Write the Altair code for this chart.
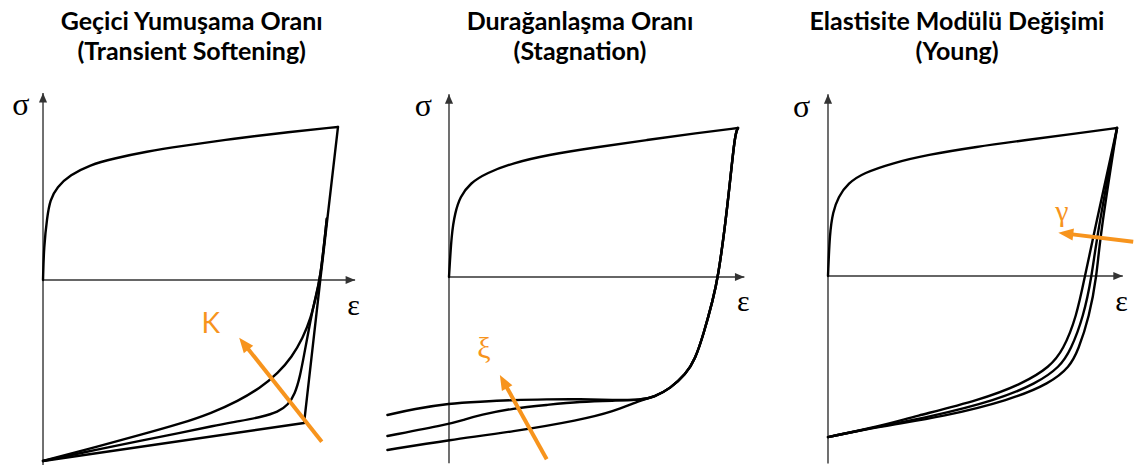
import math

import altair as alt
import pandas as pd

ORANGE = "#F7941D"
INK = "#000000"
AXIS_INK = "#333333"
SERIF = "Liberation Serif"
SANS = "Lato"
HEIGHT = 468

# Arrow-head glyph: tip at the anchor point, pointing up before rotation
HEAD_PATH = "M0,0L-0.9,2.1L0.9,2.1Z"
BIG_HEAD_PATH = "M0,0L-0.8,2L0.8,2Z"

# ---------------- Panel 1: transient softening (K) ----------------
TS_LOAD_EPS = [0, 0.3, 1.4, 2.4, 4.7, 9.2, 15.9, 23.7, 35.3, 46.4, 64.4, 81.4, 100]
TS_LOAD_SIG = [0, 21.6, 41.2, 52.3, 60.8, 68.6, 75.2, 79.3, 84.0, 87.4, 92.3, 96.3, 100]
TS_LINEAR_EPS = [100, 94.0, 88.5, 0]
TS_LINEAR_SIG = [100, 0, -93.5, -118.3]
TS_SOFT_A_EPS = [96.2, 94.0, 92.4, 90.8, 88.1, 84.4, 79.7, 73.6, 66.1, 57.3, 46.4, 32.9, 19.3, 0]
TS_SOFT_A_SIG = [40, 0, -11.8, -24.8, -37.9, -50.3, -60.8, -70.6, -79.1, -86.9, -94.1, -101.3, -108.5, -118.3]
TS_SOFT_B_EPS = [96.2, 94.0, 91.9, 90.2, 88.5, 87.1, 85.4, 83.1, 79.7, 74.2, 66.8, 57.6, 46.4, 32.9, 19.3, 0]
TS_SOFT_B_SIG = [40, 0, -14.4, -31.4, -49.0, -63.4, -74.5, -81.7, -86.3, -89.5, -92.2, -95.4, -100.0, -105.2, -110.5, -118.3]

# ---------------- Panel 2: stagnation (xi) ----------------
ST_LOAD_EPS = [0, 0.9, 2.1, 3.8, 7.3, 13.0, 22.1, 33.9, 51.2, 68.5, 85.8, 100]
ST_LOAD_SIG = [0, 29.5, 43.0, 53.7, 63.0, 69.8, 76.5, 81.9, 87.2, 91.9, 96.6, 100]
ST_UNLOAD_EPS = [100, 99.0, 97.2, 95.5, 93.1, 91.3, 88.2, 85.1, 82.0, 76.5, 71.0, 66.5]
ST_UNLOAD_SIG = [100, 96.6, 63.1, 33.6, 0, -15.4, -37.6, -55.7, -65.0, -75.0, -80.5, -82.6]
ST_TOP_EPS = [56.8, 45.3, 33.8, 22.2, 10.7, 0.1, -12.1, -21.3]
ST_TOP_SIG = [-82.6, -81.9, -82.1, -82.6, -83.7, -84.8, -88.6, -92.6]
ST_MID_EPS = [56.8, 45.3, 33.8, 22.2, 10.7, 4.9, 0.1, -21.3]
ST_MID_SIG = [-83.0, -83.7, -85.9, -88.1, -92.6, -96.0, -98.7, -106.7]
ST_LOW_EPS = [56.8, 45.3, 22.2, 0.1, -21.3]
ST_LOW_SIG = [-90.4, -96.0, -103.8, -109.4, -116.1]

# ---------------- Panel 3: Young's modulus change (gamma) ----------------
YM_LOAD_EPS = [0, 0.6, 1.7, 3.5, 7.0, 12.2, 22.5, 34.1, 51.4, 68.7, 86.0, 100]
YM_LOAD_SIG = [0, 29.0, 43.2, 53.4, 62.8, 69.6, 76.4, 81.8, 87.4, 91.9, 96.4, 100]
YM_UNLOAD_SIG = [100, 26.6, 0, -27.5, -50.0, -61.3, -72.5, -83.8, -95.1, -101.5, -108.8]
YM_L_EPS = [100, 91.8, 88.9, 86.0, 81.4, 76.8, 67.6, 52.6, 29.4, 18.0, 0]
YM_M_EPS = [100, 93.0, 91.3, 88.4, 84.0, 80.3, 72.2, 58.4, 35.3, 18.0, 0]
YM_R_EPS = [100, 94.1, 93.0, 90.4, 86.6, 83.7, 76.8, 62.9, 39.8, 18.0, 0]

PANELS = [
    dict(
        width=379, x_domain=[-14.58, 113.9], y_domain=[-122.9, 183.0],
        title=["Geçici Yumuşama Oranı", "(Transient Softening)"], title_x=191.7,
        smooth={
            "load": (TS_LOAD_EPS, TS_LOAD_SIG),
            "soft_a": (TS_SOFT_A_EPS, TS_SOFT_A_SIG),
            "soft_b": (TS_SOFT_B_EPS, TS_SOFT_B_SIG),
        },
        straight={"linear": (TS_LINEAR_EPS, TS_LINEAR_SIG)},
        axis=dict(y_lo=-120.9, y_hi=122.2, x_hi=105.8),
        sigma_at=(-7.5, 114.4), eps_at=(105.3, -17.3),
        arrow=dict(tail=(94.5, -105.7), head=(66.5, -37.7)),
        tag=dict(text="K", at=(56.9, -29.4), font=SANS, size=28),
    ),
    dict(
        width=379, x_domain=[-24.22, 106.92], y_domain=[-128.2, 185.9],
        title=["Durağanlaşma Oranı", "(Stagnation)"], title_x=201.0,
        smooth={
            "top": (ST_UNLOAD_EPS + ST_TOP_EPS, ST_UNLOAD_SIG + ST_TOP_SIG),
            "mid": (ST_UNLOAD_EPS + ST_MID_EPS, ST_UNLOAD_SIG + ST_MID_SIG),
            "low": (ST_UNLOAD_EPS + ST_LOW_EPS, ST_UNLOAD_SIG + ST_LOW_SIG),
            "load": (ST_LOAD_EPS, ST_LOAD_SIG),
        },
        straight={},
        axis=dict(y_lo=-125.0, y_hi=122.6, x_hi=102.2),
        sigma_at=(-8.9, 114.8), eps_at=(101.8, -16.6),
        arrow=dict(tail=(33.8, -122.3), head=(17.6, -65.8)),
        tag=dict(text="ξ", at=(12.1, -48.5), font=SERIF, size=30),
    ),
    dict(
        width=378, x_domain=[-24.22, 106.57], y_domain=[-129.7, 186.5],
        title=["Elastisite Modülü Değişimi", "(Young)"], title_x=199.0,
        smooth={
            "load": (YM_LOAD_EPS, YM_LOAD_SIG),
            "l": (YM_L_EPS, YM_UNLOAD_SIG),
            "m": (YM_M_EPS, YM_UNLOAD_SIG),
            "r": (YM_R_EPS, YM_UNLOAD_SIG),
        },
        straight={},
        axis=dict(y_lo=-126.6, y_hi=122.8, x_hi=102.0),
        sigma_at=(-9.1, 114.4), eps_at=(101.6, -17.4),
        arrow=dict(tail=(105.6, 23.2), head=(79.7, 29.3)),
        tag=dict(text="γ", at=(80.9, 43.0), font=SERIF, size=30),
    ),
]


def series_frame(curves):
    rows = []
    for name, (xs, ys) in curves.items():
        for i, (x, y) in enumerate(zip(xs, ys)):
            rows.append({"series": name, "i": i, "eps": x, "sig": y})
    return pd.DataFrame(rows, columns=["series", "i", "eps", "sig"])


def build_panel(p):
    xs = alt.Scale(domain=p["x_domain"], nice=False, zero=False)
    ys = alt.Scale(domain=p["y_domain"], nice=False, zero=False)
    kx = p["width"] / (p["x_domain"][1] - p["x_domain"][0])
    ky = HEIGHT / (p["y_domain"][1] - p["y_domain"][0])

    def X(f):
        return alt.X(f"{f}:Q", scale=xs, axis=None)

    def Y(f):
        return alt.Y(f"{f}:Q", scale=ys, axis=None)

    def X2(f):
        return alt.X2(f"{f}:Q")

    def Y2(f):
        return alt.Y2(f"{f}:Q")

    ax = p["axis"]
    axis_lines = pd.DataFrame([
        {"x": 0, "y": ax["y_lo"], "x2": 0, "y2": ax["y_hi"]},
        {"x": 0, "y": 0, "x2": ax["x_hi"], "y2": 0},
    ])
    axis_heads = pd.DataFrame([
        {"x": 0, "y": ax["y_hi"], "rot": 0},
        {"x": ax["x_hi"], "y": 0, "rot": 90},
    ])

    rules = alt.Chart(axis_lines).mark_rule(color=AXIS_INK, strokeWidth=1.4).encode(
        x=X("x"), y=Y("y"), x2=X2("x2"), y2=Y2("y2"))
    heads = alt.Chart(axis_heads).mark_point(
        shape=HEAD_PATH, filled=True, size=81, color=AXIS_INK, opacity=1, strokeWidth=0
    ).encode(x=X("x"), y=Y("y"), angle=alt.Angle("rot:Q", scale=None))

    layers = [rules, heads]

    smooth = alt.Chart(series_frame(p["smooth"])).mark_line(
        interpolate="basis", color=INK, strokeWidth=2.4,
        strokeCap="round", strokeJoin="round",
    ).encode(x=X("eps"), y=Y("sig"), detail="series:N", order="i:Q")
    layers.append(smooth)

    if p["straight"]:
        straight = alt.Chart(series_frame(p["straight"])).mark_line(
            interpolate="linear", color=INK, strokeWidth=2.4,
            strokeCap="round", strokeJoin="round",
        ).encode(x=X("eps"), y=Y("sig"), detail="series:N", order="i:Q")
        layers.append(straight)

    # orange trend arrow
    (tx, ty), (hx, hy) = p["arrow"]["tail"], p["arrow"]["head"]
    dx_px, dy_px = (hx - tx) * kx, (hy - ty) * ky
    length = math.hypot(dx_px, dy_px)
    rot = math.degrees(math.atan2(dx_px, dy_px)) % 360
    back = 10.0 / length
    shaft = pd.DataFrame([{
        "x": tx, "y": ty,
        "x2": hx - (hx - tx) * back, "y2": hy - (hy - ty) * back,
    }])
    tip = pd.DataFrame([{"x": hx, "y": hy, "rot": rot}])
    layers.append(alt.Chart(shaft).mark_rule(color=ORANGE, strokeWidth=4).encode(
        x=X("x"), y=Y("y"), x2=X2("x2"), y2=Y2("y2")))
    layers.append(alt.Chart(tip).mark_point(
        shape=BIG_HEAD_PATH, filled=True, size=225, color=ORANGE, opacity=1, strokeWidth=0
    ).encode(x=X("x"), y=Y("y"), angle=alt.Angle("rot:Q", scale=None)))

    # axis symbols
    sym = pd.DataFrame([
        {"x": p["sigma_at"][0], "y": p["sigma_at"][1], "t": "σ", "s": 32},
        {"x": p["eps_at"][0], "y": p["eps_at"][1], "t": "ε", "s": 30},
    ])
    layers.append(alt.Chart(sym).mark_text(
        font=SERIF, color=INK, align="center", baseline="middle"
    ).encode(x=X("x"), y=Y("y"), text="t:N", size=alt.Size("s:Q", scale=None)))

    tag = p["tag"]
    tag_df = pd.DataFrame([{"x": tag["at"][0], "y": tag["at"][1], "t": tag["text"]}])
    layers.append(alt.Chart(tag_df).mark_text(
        font=tag["font"], fontSize=tag["size"], color=ORANGE, align="center", baseline="middle"
    ).encode(x=X("x"), y=Y("y"), text="t:N"))

    # two-line heading
    for line, base in zip(p["title"], (30, 60)):
        head_df = pd.DataFrame([{"t": line}])
        layers.append(alt.Chart(head_df).mark_text(
            font=SANS, fontSize=25, fontWeight="bold", color=INK,
            align="center", baseline="alphabetic",
        ).encode(x=alt.value(p["title_x"]), y=alt.value(base), text="t:N"))

    return alt.layer(*layers).properties(width=p["width"], height=HEIGHT)


chart = alt.hconcat(*[build_panel(p) for p in PANELS], spacing=0, bounds="flush").configure_view(
    strokeWidth=0
).properties(padding=0, background="white")

chart.save("out.html", embed_options={"renderer": "svg", "actions": False})
